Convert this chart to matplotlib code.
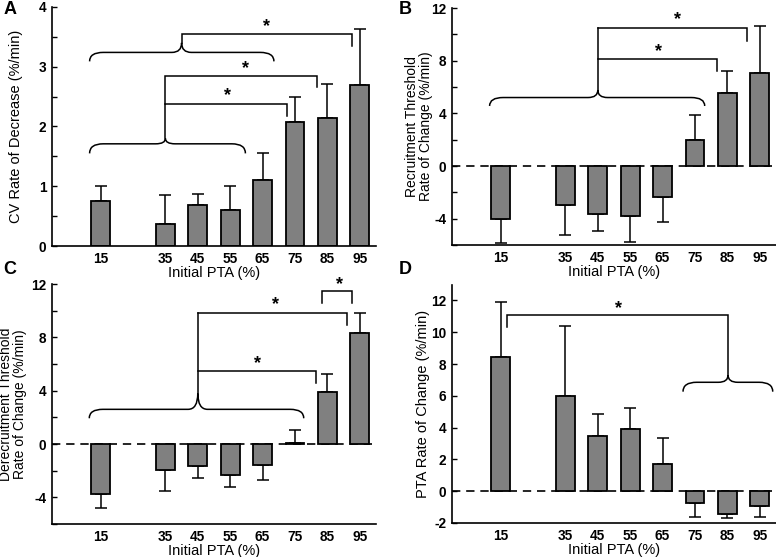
import numpy as np
import matplotlib
matplotlib.use('Agg')
import matplotlib.pyplot as plt
from matplotlib.path import Path
from matplotlib.patches import PathPatch

plt.rcParams['font.family'] = ['Liberation Sans', 'DejaVu Sans']
plt.rcParams['axes.unicode_minus'] = False

# Datos
pta_labels = ['15', '35', '45', '55', '65', '75', '85', '95']
pos = np.array([1, 3, 4, 5, 6, 7, 8, 9])

cv_mean = [0.75, 0.37, 0.69, 0.61, 1.10, 2.07, 2.15, 2.69]
cv_sem = [0.25, 0.48, 0.18, 0.39, 0.46, 0.42, 0.56, 0.95]

rt_mean = [-4.05, -2.96, -3.67, -3.80, -2.35, 1.97, 5.52, 7.09]
rt_sem = [1.77, 2.28, 1.27, 2.00, 1.88, 1.90, 1.67, 3.51]

dt_mean = [-3.75, -1.95, -1.67, -2.33, -1.58, 0.10, 3.93, 8.35]
dt_sem = [1.08, 1.55, 0.90, 0.92, 1.10, 0.95, 1.32, 1.45]

pta_mean = [8.46, 6.00, 3.47, 3.92, 1.72, -0.75, -1.42, -0.94]
pta_sem = [3.44, 4.38, 1.39, 1.30, 1.62, 0.85, 0.25, 0.71]

LW = 1.1
W, H = 776, 557
TICK_FS = 9.8
LABEL_FS = 10.5


def bars(ax, mean, sem, zero_line=False):
    mean = np.array(mean)
    sem = np.array(sem)
    lower = np.where(mean < 0, sem, 0)
    upper = np.where(mean >= 0, sem, 0)
    if zero_line:
        ax.axhline(0, color='black', lw=1.2, ls=(0, (5, 3.5)), zorder=1)
    ax.bar(pos, mean, width=0.58, color='#808080', edgecolor='black',
           linewidth=1.3, zorder=2)
    ax.errorbar(pos, mean, yerr=[lower, upper], fmt='none', ecolor='black',
                elinewidth=1.1, capsize=4.3, capthick=1.1, zorder=1.5)
    ax.set_xlim(-0.5, 9.5)
    ax.set_xticks(pos)
    ax.set_xticklabels(pta_labels)
    for s in ['top', 'right']:
        ax.spines[s].set_visible(False)
    for s in ['left', 'bottom']:
        ax.spines[s].set_linewidth(1.2)
    ax.tick_params(axis='x', length=0, pad=4, labelsize=TICK_FS)
    ax.tick_params(axis='y', which='both', direction='in', length=3.5,
                   width=1, pad=4, labelsize=TICK_FS)
    for t in ax.get_xticklabels() + ax.get_yticklabels():
        t.set_fontweight('bold')
    ax.set_xlabel('Initial PTA (%)', fontsize=LABEL_FS, labelpad=0)


def line(ax, xs, ys):
    ax.plot(xs, ys, color='black', lw=LW, clip_on=False, zorder=3,
            solid_joinstyle='miter')


def star(ax, x, y):
    ax.text(x, y, '*', ha='center', va='center', fontsize=13,
            fontweight='bold', clip_on=False)


def brace(ax, x0, x1, xm, y, tip, cusp, re=0.42, rc=0.3):
    verts = [(x0, y - tip), (x0, y), (x0 + re, y),
             (xm - rc, y), (xm, y), (xm, y + cusp),
             (xm, y), (xm + rc, y),
             (x1 - re, y), (x1, y), (x1, y - tip)]
    codes = [Path.MOVETO, Path.CURVE3, Path.CURVE3,
             Path.LINETO, Path.CURVE3, Path.CURVE3,
             Path.CURVE3, Path.CURVE3,
             Path.LINETO, Path.CURVE3, Path.CURVE3]
    ax.add_patch(PathPatch(Path(verts, codes), fill=False, lw=LW,
                           edgecolor='black', clip_on=False, zorder=3))


fig = plt.figure(figsize=(W / 100, H / 100), dpi=100)
axA = fig.add_axes([52 / W, 1 - 246 / H, 324 / W, 239 / H])
axB = fig.add_axes([452 / W, 1 - 245 / H, 324 / W, 237 / H])
axC = fig.add_axes([52 / W, 1 - 524 / H, 324 / W, 240 / H])
axD = fig.add_axes([452 / W, 1 - 523 / H, 324 / W, 238.5 / H])

# A
bars(axA, cv_mean, cv_sem)
axA.set_ylim(0, 4)
axA.set_yticks([0, 1, 2, 3, 4])
axA.set_yticks(np.arange(0.5, 4, 1), minor=True)
axA.set_ylabel('CV Rate of Decrease (%/min)', fontsize=LABEL_FS)
axA.yaxis.set_label_coords(-0.09, 0.5)
brace(axA, 0.66, 5.47, 3, 1.71, 0.16, 0.09)
line(axA, [3, 3, 6.74, 6.74], [1.8, 2.38, 2.38, 2.18])
line(axA, [3, 3, 7.67, 7.67], [2.38, 2.85, 2.85, 2.66])
star(axA, 4.92, 2.51)
star(axA, 5.47, 2.97)
brace(axA, 0.66, 6.35, 3.5, 3.24, 0.15, 0.16)
line(axA, [3.5, 3.5, 8.75, 8.75], [3.4, 3.55, 3.55, 3.34])
star(axA, 6.12, 3.68)

# B
bars(axB, rt_mean, rt_sem, zero_line=True)
axB.set_ylim(-6, 12)
axB.set_yticks([-4, 0, 4, 8, 12])
axB.set_yticks([-6, -2, 2, 6, 10], minor=True)
axB.set_ylabel('Recruitment Threshold\nRate of Change (%/min)',
               fontsize=10, linespacing=1.0)
axB.yaxis.set_label_coords(-0.058, 0.5)
brace(axB, 0.66, 7.3, 4, 5.2, 0.64, 0.57)
line(axB, [4, 4], [5.77, 10.45])
line(axB, [4, 7.69, 7.69], [8.12, 8.12, 7.2])
line(axB, [4, 8.61, 8.61], [10.45, 10.45, 9.5])
star(axB, 5.88, 8.7)
star(axB, 6.47, 11.1)

# C
bars(axC, dt_mean, dt_sem, zero_line=True)
axC.set_ylim(-6, 12)
axC.set_yticks([-4, 0, 4, 8, 12])
axC.set_yticks([-6, -2, 2, 6, 10], minor=True)
axC.set_ylabel('Derecruitment Threshold\nRate of Change (%/min)',
               fontsize=10, linespacing=1.0)
axC.yaxis.set_label_coords(-0.077, 0.5)
brace(axC, 0.65, 7.27, 4, 2.6, 0.67, 1.2)
line(axC, [4, 4], [3.8, 9.8])
line(axC, [4, 7.65, 7.65], [5.48, 5.48, 4.55])
line(axC, [4, 8.59, 8.59], [9.8, 9.8, 8.93])
line(axC, [7.82, 7.82, 8.75, 8.75], [10.6, 11.5, 11.5, 10.6])
star(axC, 5.84, 6.05)
star(axC, 6.41, 10.45)
star(axC, 8.36, 11.95)

# D
bars(axD, pta_mean, pta_sem, zero_line=True)
axD.set_ylim(-2, 13)
axD.set_yticks([-2, 0, 2, 4, 6, 8, 10, 12])
axD.set_ylabel('PTA Rate of Change (%/min)', fontsize=LABEL_FS)
axD.yaxis.set_label_coords(-0.068, 0.5)
line(axD, [1.21, 1.21, 8.02, 8.02], [10.3, 11.08, 11.08, 7.3])
brace(axD, 6.63, 9.4, 8.02, 6.85, 0.59, 0.45)
star(axD, 4.65, 11.5)

# Letras de panel
for letter, x, y in [('A', 10, 9), ('B', 405, 9), ('C', 10, 270), ('D', 405, 270)]:
    fig.text(x / W, 1 - y / H, letter, fontsize=13, fontweight='bold',
             ha='center', va='center')

fig.savefig('out.png', dpi=100)
